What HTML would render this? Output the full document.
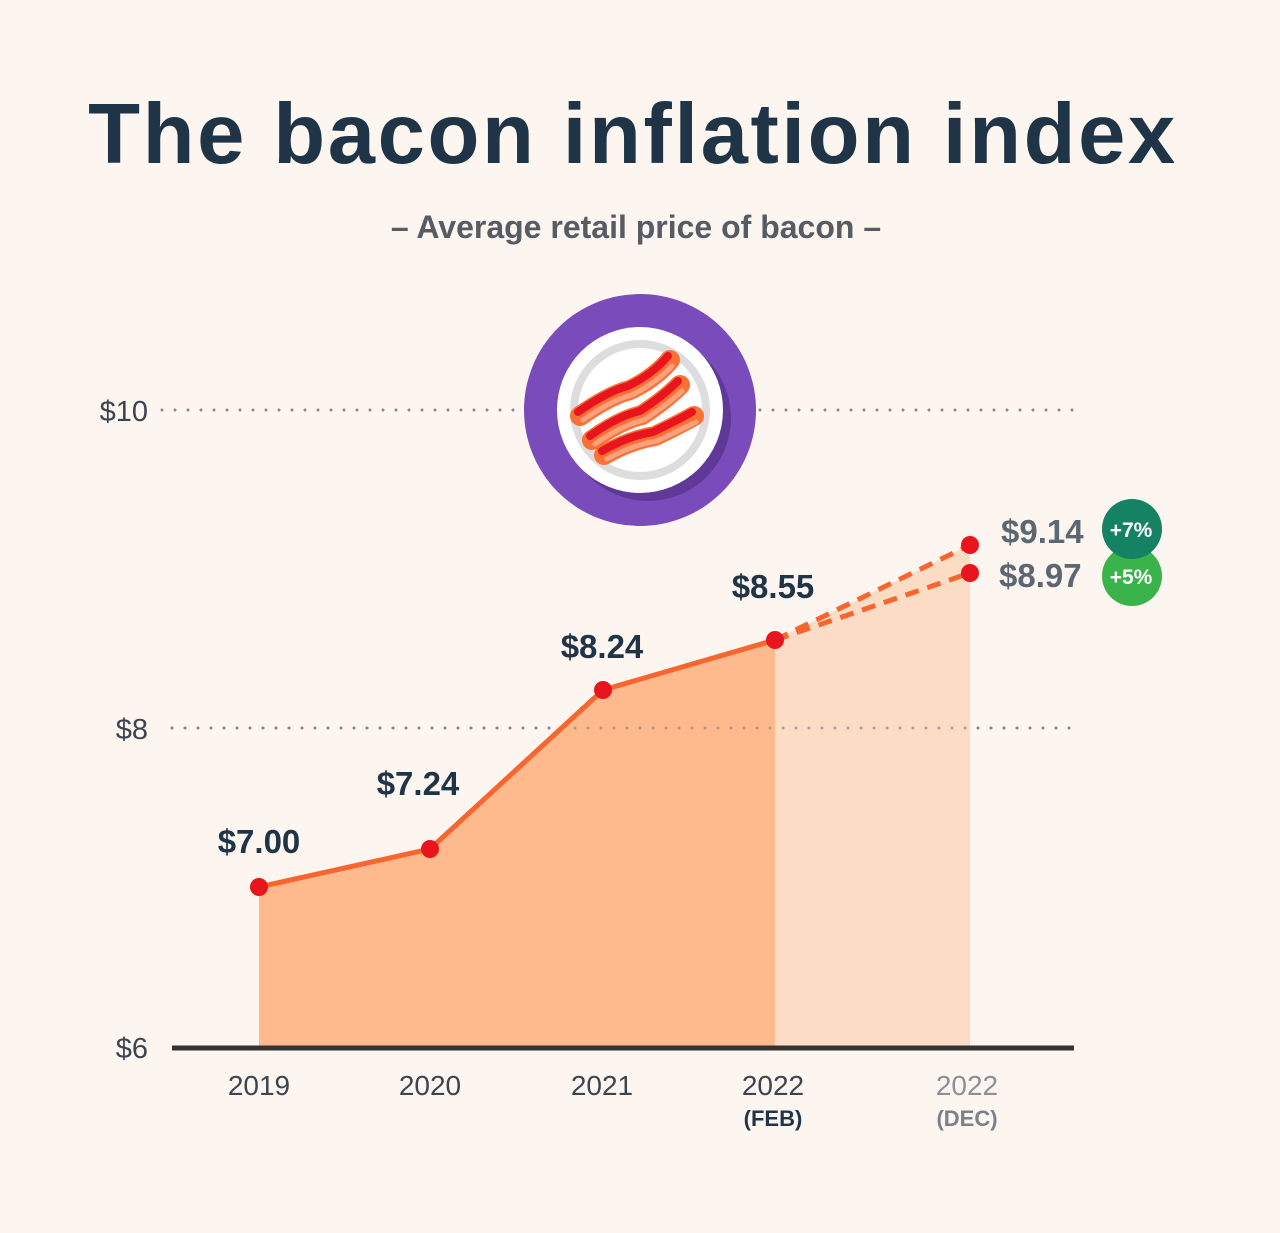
<!DOCTYPE html>
<html><head><style>
body{margin:0;background:#fdf5f0;}
svg{display:block}
text{font-family:"Liberation Sans",sans-serif}
</style></head><body>
<svg width="1280" height="1233" viewBox="0 0 1280 1233">
<rect width="1280" height="1233" fill="#fdf5f0"/>
<text x="633" y="163" text-anchor="middle" font-size="85" font-weight="bold" fill="#1f3447" letter-spacing="2.6">The bacon inflation index</text>
<text x="636" y="238" text-anchor="middle" font-size="32" font-weight="bold" fill="#555c63">– Average retail price of bacon –</text>
<line x1="162" y1="410" x2="1080" y2="410" stroke="#8a8a8a" stroke-width="3" stroke-dasharray="0 13" stroke-linecap="round"/>
<line x1="172" y1="728" x2="1080" y2="728" stroke="#8a8a8a" stroke-width="3" stroke-dasharray="0 13" stroke-linecap="round"/>
<text x="148" y="421" text-anchor="end" font-size="29" fill="#3a4550">$10</text>
<text x="148" y="739" text-anchor="end" font-size="29" fill="#3a4550">$8</text>
<text x="148" y="1058" text-anchor="end" font-size="29" fill="#3a4550">$6</text>
<polygon points="775,640 970,545 970,1047 775,1047" fill="#fddcc6"/>
<polygon points="259,887 430,849 603,690 775,640 775,1047 259,1047" fill="#feba8d"/>
<line x1="172" y1="728" x2="1080" y2="728" stroke="#8a8a8a" stroke-width="3" stroke-dasharray="0 13" stroke-linecap="round" opacity="0.7"/>
<polyline points="259,887 430,849 603,690 775,640" fill="none" stroke="#f8652e" stroke-width="5"/>
<line x1="775" y1="640" x2="970" y2="545" stroke="#f8652e" stroke-width="5" stroke-dasharray="14 9"/>
<line x1="775" y1="640" x2="970" y2="573" stroke="#f8652e" stroke-width="5" stroke-dasharray="14 9"/>
<g fill="#e8151e">
<circle cx="259" cy="887" r="9"/><circle cx="430" cy="849" r="9"/><circle cx="603" cy="690" r="9"/><circle cx="775" cy="640" r="9"/><circle cx="970" cy="545" r="9"/><circle cx="970" cy="573" r="9"/>
</g>
<line x1="172" y1="1048" x2="1074" y2="1048" stroke="#333" stroke-width="5"/>
<g font-size="33" font-weight="bold" fill="#1f3447" text-anchor="middle">
<text x="259" y="853">$7.00</text><text x="418" y="795">$7.24</text><text x="602" y="658">$8.24</text><text x="773" y="598">$8.55</text>
</g>
<g font-size="33" font-weight="bold" fill="#5d6772">
<text x="1001" y="543">$9.14</text><text x="999" y="587">$8.97</text>
</g>
<circle cx="1132" cy="576" r="30" fill="#3ab44a"/>
<circle cx="1132" cy="529" r="30" fill="#158263"/>
<text x="1131" y="537" text-anchor="middle" font-size="21" font-weight="bold" fill="#fff">+7%</text>
<text x="1131" y="584" text-anchor="middle" font-size="21" font-weight="bold" fill="#fff">+5%</text>
<g font-size="28" fill="#3a4550" text-anchor="middle">
<text x="259" y="1095">2019</text><text x="430" y="1095">2020</text><text x="602" y="1095">2021</text><text x="773" y="1095">2022</text>
<text x="967" y="1095" fill="#8a9096">2022</text>
</g>
<text x="773" y="1126" text-anchor="middle" font-size="22" font-weight="bold" fill="#1f3447">(FEB)</text>
<text x="967" y="1126" text-anchor="middle" font-size="22" font-weight="bold" fill="#7a8188">(DEC)</text>
<circle cx="640" cy="410" r="116" fill="#7a4bbb"/>
<circle cx="648" cy="418" r="83" fill="#5f3898"/>
<circle cx="640" cy="410" r="83" fill="#fff"/>
<circle cx="640" cy="410" r="66" fill="none" stroke="#dddddd" stroke-width="8"/>
<g stroke-linecap="round" fill="none">
<path d="M580 416 Q610 395 630 390 Q655 378 670 360" stroke="#fa7035" stroke-width="20"/>
<path d="M578 412 Q608 391 628 386 Q653 374 668 356" stroke="#e8151e" stroke-width="8"/>
<path d="M583 420 Q612 400 632 395 Q656 383 672 366" stroke="#fba27c" stroke-width="5"/>
<path d="M592 440 Q620 420 642 415 Q665 400 680 385" stroke="#fa7035" stroke-width="20"/>
<path d="M590 436 Q618 416 640 411 Q663 396 678 381" stroke="#e8151e" stroke-width="8"/>
<path d="M595 444 Q622 425 644 420 Q667 405 682 391" stroke="#fba27c" stroke-width="5"/>
<path d="M604 455 Q630 440 655 436 Q678 425 694 416" stroke="#fa7035" stroke-width="20"/>
<path d="M602 451 Q628 436 653 432 Q676 421 692 412" stroke="#e8151e" stroke-width="8"/>
<path d="M607 459 Q632 445 657 441 Q680 430 696 422" stroke="#fba27c" stroke-width="5"/>
</g>
</svg>
</body></html>
